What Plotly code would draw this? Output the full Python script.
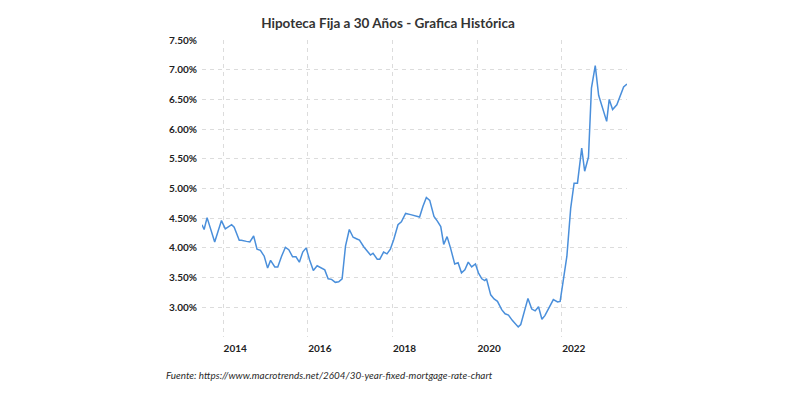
import plotly.graph_objects as go

# Decimal year positions and 30-year fixed mortgage rate (%)
years = [
    2013.50, 2013.55, 2013.62, 2013.80, 2013.96, 2014.05, 2014.20, 2014.26, 2014.38, 2014.43,
    2014.55, 2014.63, 2014.72, 2014.80, 2014.88, 2014.97, 2015.05, 2015.12, 2015.22, 2015.29,
    2015.38, 2015.47, 2015.55, 2015.64, 2015.72, 2015.80, 2015.88, 2015.96, 2016.04, 2016.13,
    2016.22, 2016.31, 2016.40, 2016.48, 2016.56, 2016.65, 2016.73, 2016.81, 2016.89, 2016.98,
    2017.07, 2017.16, 2017.22, 2017.32, 2017.40, 2017.48, 2017.54, 2017.64, 2017.70, 2017.79,
    2017.87, 2017.95, 2018.03, 2018.13, 2018.21, 2018.31, 2018.43, 2018.54, 2018.64, 2018.72,
    2018.80, 2018.88, 2018.98, 2019.06, 2019.14, 2019.21, 2019.29, 2019.37, 2019.47, 2019.55,
    2019.63, 2019.71, 2019.79, 2019.87, 2019.96, 2020.03, 2020.11, 2020.18, 2020.22, 2020.32,
    2020.40, 2020.48, 2020.58, 2020.66, 2020.74, 2020.83, 2020.91, 2020.97, 2021.03, 2021.12,
    2021.20, 2021.29, 2021.37, 2021.45, 2021.53, 2021.60, 2021.74, 2021.80, 2021.90, 2021.96,
    2022.04, 2022.12, 2022.21, 2022.29, 2022.37, 2022.47, 2022.54, 2022.63, 2022.70, 2022.79,
    2022.87, 2022.96, 2023.06, 2023.12, 2023.20, 2023.30, 2023.38, 2023.46, 2023.54,
]
rates = [
    4.39, 4.31, 4.51, 4.10, 4.46, 4.32, 4.39, 4.35, 4.13, 4.13,
    4.11, 4.10, 4.20, 3.98, 3.96, 3.86, 3.66, 3.79, 3.68, 3.68,
    3.86, 4.01, 3.97, 3.85, 3.85, 3.76, 3.93, 4.00, 3.80, 3.62,
    3.70, 3.66, 3.63, 3.48, 3.47, 3.42, 3.43, 3.48, 4.03, 4.31,
    4.18, 4.15, 4.13, 4.02, 3.94, 3.88, 3.91, 3.81, 3.81, 3.93,
    3.90, 3.98, 4.14, 4.39, 4.44, 4.58, 4.56, 4.54, 4.52, 4.70,
    4.85, 4.80, 4.53, 4.45, 4.36, 4.06, 4.19, 4.00, 3.73, 3.75,
    3.58, 3.63, 3.76, 3.68, 3.73, 3.58, 3.48, 3.45, 3.48, 3.21,
    3.14, 3.10, 2.96, 2.89, 2.87, 2.78, 2.71, 2.67, 2.71, 2.93,
    3.15, 2.97, 2.94, 3.01, 2.80, 2.86, 3.05, 3.13, 3.09, 3.10,
    3.48, 3.86, 4.67, 5.09, 5.09, 5.68, 5.29, 5.53, 6.69, 7.07,
    6.57, 6.38, 6.13, 6.50, 6.33, 6.41, 6.55, 6.71, 6.76,
]

x_tick_vals = [2014, 2016, 2018, 2020, 2022]
x_tick_text = ["2014", "2016", "2018", "2020", "2022"]
y_tick_vals = [2.5, 3.0, 3.5, 4.0, 4.5, 5.0, 5.5, 6.0, 6.5, 7.0, 7.5]
y_tick_text = ["", "3.00%", "3.50%", "4.00%", "4.50%", "5.00%", "5.50%", "6.00%",
               "6.50%", "7.00%", "7.50%"]

title_text = "Hipoteca Fija a 30 Años - Grafica Histórica"
source_text = "Fuente: https://www.macrotrends.net/2604/30-year-fixed-mortgage-rate-chart"

FONT = "Lato"
grid_color = "#dcdcdc"

fig = go.Figure()
fig.add_trace(go.Scatter(
    x=years, y=rates, mode="lines",
    line=dict(color="#4a8fdb", width=1.5),
    hoverinfo="x+y",
))

fig.update_layout(
    width=800, height=401,
    margin=dict(l=202, r=173, t=40, b=64),
    paper_bgcolor="white", plot_bgcolor="white",
    showlegend=False,
    title=dict(
        text=title_text, x=388 / 800, xanchor="center", xref="container",
        y=1 - 23 / 401, yanchor="middle", yref="container",
        font=dict(family=FONT, size=13.5, color="#333333", weight="bold"),
    ),
    xaxis=dict(
        range=[years[0], years[-1]],
        tickmode="array", tickvals=x_tick_vals, ticktext=x_tick_text,
        showgrid=True, gridcolor=grid_color, griddash="4px,4px", gridwidth=1,
        zeroline=False, showline=False, ticks="",
        ticklabelshift=12, ticklabelstandoff=4,
        tickfont=dict(family=FONT, size=10, color="#222222", weight="bold"),
    ),
    yaxis=dict(
        range=[2.5, 7.5],
        tickmode="array", tickvals=y_tick_vals, ticktext=y_tick_text,
        showgrid=True, gridcolor=grid_color, griddash="4px,4px", gridwidth=1,
        zeroline=False, showline=False, ticks="",
        ticklabelstandoff=4,
        tickfont=dict(family=FONT, size=10, color="#222222", weight="bold"),
    ),
    annotations=[dict(
        text=source_text, xref="paper", yref="paper",
        x=(164 - 202) / 425, y=(337.4 - 375) / 297.1,
        xanchor="left", yanchor="middle", showarrow=False,
        font=dict(family=FONT, size=9.9, color="#2a2a2a", style="italic"),
    )],
)

fig.write_html("out.html")
